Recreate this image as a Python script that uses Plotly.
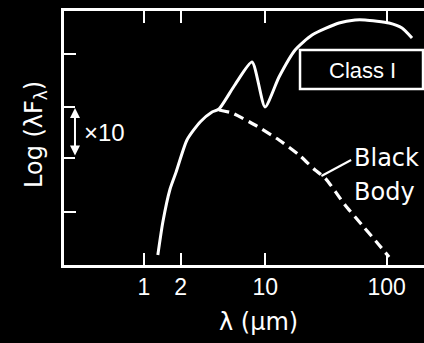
import numpy as np
import plotly.graph_objects as go

# Class I SED (solid) : wavelength (um), log(lambda F_lambda) arbitrary units
sed_wl = [1.30, 1.43, 1.64, 1.84, 2.26, 2.90, 3.64, 4.15, 5.6, 7.77, 9.94, 12.97, 17.6, 24.3, 40.5, 55.0, 66.4, 104.7, 133.9, 161.9]
sed_y  = [0.20, 0.86, 1.52, 1.86, 2.50, 2.86, 3.06, 3.12, 3.60, 4.06, 3.16, 3.76, 4.30, 4.60, 4.84, 4.90, 4.90, 4.84, 4.74, 4.54]

# Blackbody (dashed)
bb_wl = [4.15, 5.32, 8.22, 12.97, 18.96, 25.7, 31.1, 45.4, 62.7, 86.6, 104.7]
bb_y  = [3.10, 3.04, 2.80, 2.50, 2.20, 1.90, 1.74, 1.20, 0.80, 0.40, 0.16]

xtick_vals = [1, 2, 10, 100]
xtick_text = ["1", "2", "10", "100"]
ytick_vals = [1.06, 4.22]

# leader line from label to blackbody curve
leader_wl = [29.0, 51.0]
leader_y = [1.78, 2.10]

WHITE = "white"
NUM_FONT = "Liberation Sans"
TXT_FONT = "DejaVu Sans"

fig = go.Figure()
fig.add_trace(go.Scatter(x=sed_wl, y=sed_y, mode="lines",
                         line=dict(color=WHITE, width=3, shape="spline", smoothing=0.6),
                         hoverinfo="skip"))
fig.add_trace(go.Scatter(x=bb_wl, y=bb_y, mode="lines",
                         line=dict(color=WHITE, width=3.2, dash="10px,6px", shape="spline", smoothing=0.6),
                         hoverinfo="skip"))
fig.add_trace(go.Scatter(x=leader_wl, y=leader_y, mode="lines",
                         line=dict(color=WHITE, width=2), hoverinfo="skip"))

lx0 = -0.6595  # log10 of left edge
lx1 = 2.308
fig.update_layout(
    width=424, height=343,
    margin=dict(l=64, r=0, t=11, b=78),
    paper_bgcolor="black", plot_bgcolor="black",
    showlegend=False,
    xaxis=dict(type="log", range=[lx0, lx1], showgrid=False, zeroline=False,
               showline=True, linecolor=WHITE, linewidth=2.5, mirror="ticks",
               ticks="inside", ticklen=12, tickwidth=2, tickcolor=WHITE,
               tickvals=xtick_vals, ticktext=xtick_text,
               tickfont=dict(family=NUM_FONT, size=23, color=WHITE)),
    yaxis=dict(range=[0, 5.08], showgrid=False, zeroline=False,
               showline=True, linecolor=WHITE, linewidth=2.5, mirror=False,
               ticks="inside", ticklen=12, tickwidth=2, tickcolor=WHITE,
               tickvals=ytick_vals, showticklabels=False),
)

# Class I box (shapes on log axis take raw values)
fig.add_shape(type="rect", xref="x", yref="y", x0=10 ** 1.286, x1=10 ** 2.30, y0=3.52, y1=4.30,
              line=dict(color=WHITE, width=2.5), fillcolor="black", layer="above")
fig.add_annotation(x=1.797, y=3.90, xref="x", yref="y", text="Class I", showarrow=False,
                   xanchor="center", yanchor="middle",
                   font=dict(family=NUM_FONT, size=22, color=WHITE))

# Black Body label
fig.add_annotation(x=1.715, y=2.14, xref="x", yref="y", text="Black", showarrow=False,
                   xanchor="left", yanchor="middle", font=dict(family=TXT_FONT, size=24, color=WHITE))
fig.add_annotation(x=1.715, y=1.46, xref="x", yref="y", text="Body", showarrow=False,
                   xanchor="left", yanchor="middle", font=dict(family=TXT_FONT, size=24, color=WHITE))

# x10 bracket
bx = -0.569
for yy in (3.16, 2.14):
    fig.add_shape(type="line", xref="x", yref="y", x0=10 ** lx0, x1=10 ** bx, y0=yy, y1=yy,
                  line=dict(color=WHITE, width=2))
fig.add_annotation(x=bx, y=3.14, ax=bx, ay=2.16, xref="x", yref="y", axref="x", ayref="y",
                   text="", showarrow=True, arrowside="end+start", arrowhead=2,
                   arrowsize=1, arrowwidth=2, arrowcolor=WHITE)
fig.add_annotation(x=-0.511, y=2.66, xref="x", yref="y", text="×10", showarrow=False,
                   xanchor="left", yanchor="middle", font=dict(family=NUM_FONT, size=24, color=WHITE))

# axis titles
fig.add_annotation(x=(258 - 64) / 360, y=(265 - 322) / 254, xref="paper", yref="paper",
                   text="λ (μm)", showarrow=False, xanchor="center", yanchor="middle",
                   font=dict(family=TXT_FONT, size=24, color=WHITE))
fig.add_annotation(x=(35 - 64) / 360, y=(265 - 135) / 254, xref="paper", yref="paper",
                   text="Log (λF<sub>λ</sub>)", showarrow=False, textangle=-90,
                   xanchor="center", yanchor="middle",
                   font=dict(family=TXT_FONT, size=24, color=WHITE))

fig.write_html("out.html")
